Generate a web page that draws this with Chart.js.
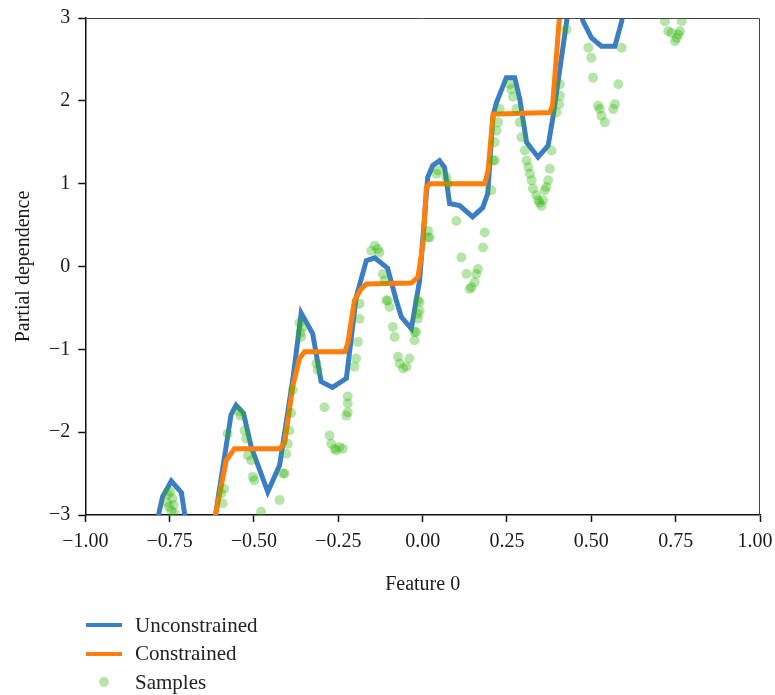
<!DOCTYPE html>
<html>
<head>
<meta charset="utf-8">
<script src="https://cdn.jsdelivr.net/npm/chart.js@4/dist/chart.umd.min.js"></script>
<style>
  html, body { margin: 0; padding: 0; background: #fff; }
  #wrap { position: relative; width: 775px; height: 695px; }
  #legend {
    position: absolute; left: 86px; top: 611px;
    font-family: 'Liberation Serif', 'DejaVu Serif', serif; font-size: 21px; color: #222;
  }
  .item { display: flex; align-items: center; height: 28.5px; }
  .swatch { width: 36px; height: 4px; margin-right: 13px; }
  .dot { width: 36px; display: flex; justify-content: center; margin-right: 13px; }
  .dot span { width: 10px; height: 10px; border-radius: 50%; }
</style>
</head>
<body>
<div id="wrap">
  <canvas id="chart" width="775" height="695"></canvas>
  <div id="legend"></div>
</div>
<script>
// unconstrained model curve
const unconstrainedX = [-0.80, -0.783, -0.771, -0.745, -0.715, -0.705, -0.69, -0.63, -0.614, -0.568, -0.553, -0.531, -0.508, -0.459, -0.424, -0.385, -0.360, -0.326, -0.301, -0.267, -0.226, -0.197, -0.167, -0.142, -0.104, -0.078, -0.063, -0.0335, -0.009, 0.0, 0.015, 0.030, 0.050, 0.065, 0.080, 0.110, 0.148, 0.178, 0.193, 0.2086, 0.219, 0.248, 0.273, 0.288, 0.308, 0.342, 0.372, 0.387, 0.401, 0.43, 0.45, 0.4757, 0.5006, 0.530, 0.570, 0.590, 0.61];
const unconstrainedY = [-3.4, -3.0, -2.78, -2.59, -2.73, -3.0, -3.5, -3.5, -3.0, -1.79, -1.675, -1.77, -2.18, -2.72, -2.40, -1.37, -0.563, -0.81, -1.39, -1.46, -1.35, -0.37, 0.07, 0.105, -0.02, -0.41, -0.61, -0.75, -0.17, 0.31, 1.076, 1.22, 1.277, 1.196, 0.76, 0.735, 0.60, 0.71, 0.88, 1.82, 1.98, 2.28, 2.28, 2.02, 1.50, 1.32, 1.46, 1.82, 2.22, 3.05, 3.3, 2.96, 2.76, 2.66, 2.66, 2.96, 3.5];

// monotonic constrained model curve
const constrainedX = [-0.63, -0.614, -0.582, -0.558, -0.424, -0.409, -0.385, -0.365, -0.350, -0.231, -0.222, -0.202, -0.182, -0.167, -0.034, -0.014, 0.001, 0.011, 0.021, 0.184, 0.194, 0.209, 0.224, 0.377, 0.385, 0.405, 0.42];
const constrainedY = [-3.5, -3.0, -2.34, -2.20, -2.20, -2.13, -1.45, -1.11, -1.03, -1.03, -0.93, -0.41, -0.27, -0.21, -0.20, -0.13, 0.27, 0.955, 1.0, 1.0, 1.16, 1.84, 1.84, 1.86, 1.94, 2.98, 3.3];

// training samples
const sampleX = [-0.755, -0.748, -0.742, -0.738, -0.752, -0.745, -0.735, -0.758,
  -0.597, -0.593, -0.588, -0.578, -0.545, -0.540, -0.528, -0.523, -0.518, -0.508, -0.503, -0.499, -0.479,
  -0.424, -0.414, -0.409, -0.404, -0.400, -0.395, -0.390, -0.385,
  -0.360, -0.355, -0.362, -0.365, -0.315, -0.311, -0.291,
  -0.276, -0.271, -0.261, -0.256, -0.246, -0.237, -0.226, -0.222, -0.222, -0.222,
  -0.202, -0.197, -0.192, -0.187, -0.187,
  -0.152, -0.142, -0.133, -0.128, -0.118, -0.113, -0.108, -0.103, -0.098,
  -0.088, -0.083, -0.073, -0.068, -0.058, -0.048, -0.039, -0.024, -0.024, -0.019, -0.014, -0.014, -0.009, -0.009, -0.014,
  0.016, 0.021, 0.016, 0.041, 0.046, 0.070, 0.075,
  0.100, 0.115, 0.130, 0.139, 0.145, 0.154, 0.159, 0.164, 0.179, 0.184, 0.204, 0.209,
  0.214, 0.214, 0.219, 0.2235, 0.2285, 0.258, 0.263, 0.268, 0.278, 0.288, 0.293,
  0.303, 0.308, 0.313, 0.318, 0.323, 0.327, 0.337, 0.342, 0.347, 0.352, 0.357, 0.362, 0.367, 0.372, 0.377, 0.382,
  0.397, 0.405, 0.407, 0.407,
  0.426, 0.491, 0.500, 0.505, 0.520, 0.525, 0.530, 0.540, 0.565, 0.570, 0.580, 0.590,
  0.718, 0.728, 0.738, 0.753, 0.748, 0.763, 0.768, 0.758];
const sampleY = [-2.75, -2.72, -2.80, -2.88, -2.90, -2.95, -2.98, -2.85,
  -2.74, -2.86, -2.68, -2.02, -1.75, -1.80, -1.98, -2.08, -2.28, -2.34, -2.54, -2.58, -2.96,
  -2.82, -2.50, -2.50, -2.26, -2.14, -1.98, -1.77, -1.49,
  -0.85, -0.73, -0.80, -0.68, -1.17, -1.25, -1.70,
  -2.04, -2.14, -2.20, -2.22, -2.18, -2.20, -1.80, -1.76, -1.65, -1.57,
  -1.21, -1.11, -0.91, -0.63, -0.45,
  0.19, 0.25, 0.21, 0.17, -0.09, -0.17, -0.41, -0.41, -0.49,
  -0.73, -0.85, -1.09, -1.17, -1.23, -1.21, -1.11, -0.79, -0.89, -0.79, -0.63, -0.57, -0.53, -0.43, -0.41,
  0.35, 0.35, 0.43, 1.12, 1.16, 1.08, 1.00,
  0.55, 0.11, -0.09, -0.27, -0.25, -0.19, -0.09, -0.03, 0.23, 0.41, 0.92, 1.28,
  1.28, 1.50, 1.64, 1.74, 1.90, 2.20, 2.14, 2.05, 1.90, 1.74, 1.56,
  1.40, 1.28, 1.20, 1.12, 1.04, 0.94, 0.86, 0.80, 0.77, 0.73, 0.80, 0.92, 0.96, 1.04, 1.18, 1.40,
  1.86, 1.96, 2.06, 2.20,
  2.86, 2.64, 2.52, 2.28, 1.94, 1.90, 1.82, 1.74, 1.90, 1.96, 2.20, 2.64,
  2.96, 2.84, 2.82, 2.76, 2.72, 2.84, 2.96, 2.80];

const xTicks = [-1.00, -0.75, -0.50, -0.25, 0.00, 0.25, 0.50, 0.75, 1.00];
const yTicks = [-3, -2, -1, 0, 1, 2, 3];

const toPoints = (xs, ys) => xs.map((x, i) => ({ x: x, y: ys[i] }));
const minus = s => s.replace('-', '\u2212');
const serif = "'Liberation Serif', 'DejaVu Serif', serif";
const sampleColor = 'rgba(45, 180, 10, 0.35)';

const frame = {
  id: 'frame',
  afterDatasetsDraw(chart) {
    const { ctx, chartArea: a } = chart;
    ctx.save();
    ctx.strokeStyle = '#444';
    ctx.lineWidth = 1;
    ctx.beginPath();
    ctx.moveTo(a.left, a.top + 0.5);
    ctx.lineTo(a.right - 0.5, a.top + 0.5);
    ctx.lineTo(a.right - 0.5, a.bottom);
    ctx.stroke();
    ctx.restore();
  }
};

const chart = new Chart(document.getElementById('chart'), {
  type: 'scatter',
  data: {
    datasets: [
      {
        label: 'Unconstrained',
        type: 'line',
        data: toPoints(unconstrainedX, unconstrainedY),
        borderColor: '#3c7ec3',
        borderWidth: 5,
        pointRadius: 0,
        tension: 0,
        clip: 0,
        order: 3
      },
      {
        label: 'Constrained',
        type: 'line',
        data: toPoints(constrainedX, constrainedY),
        borderColor: '#ff7f0e',
        borderWidth: 5,
        pointRadius: 0,
        tension: 0,
        clip: 0,
        order: 2
      },
      {
        label: 'Samples',
        data: toPoints(sampleX, sampleY),
        backgroundColor: sampleColor,
        borderWidth: 0,
        pointRadius: 5,
        clip: 0,
        order: 1
      }
    ]
  },
  options: {
    responsive: false,
    animation: false,
    layout: { padding: { left: 12, right: 15, top: 18, bottom: 98 } },
    plugins: { legend: { display: false }, tooltip: { enabled: false } },
    scales: {
      x: {
        type: 'linear',
        min: -1, max: 1,
        afterBuildTicks: s => { s.ticks = xTicks.map(v => ({ value: v })); },
        afterFit: s => { s.paddingLeft = 0; s.paddingRight = 0; },
        ticks: {
          // last label nudged left so it stays inside the canvas
          callback: v => v === 1 ? '1.00\u2002' : minus(v.toFixed(2)),
          font: { family: serif, size: 20 },
          color: '#1a1a1a',
          padding: 8,
          maxRotation: 0
        },
        grid: { drawOnChartArea: false, tickLength: 7, tickColor: '#111', tickWidth: 1.5 },
        border: { color: '#111', width: 1.5 },
        title: {
          display: true,
          text: 'Feature 0',
          font: { family: serif, size: 20 },
          color: '#1a1a1a',
          padding: { top: 11, bottom: 0 }
        }
      },
      y: {
        type: 'linear',
        min: -3, max: 3,
        afterBuildTicks: s => { s.ticks = yTicks.map(v => ({ value: v })); },
        afterFit: s => { s.paddingTop = 0; s.paddingBottom = 0; },
        ticks: {
          callback: v => minus(String(v)),
          font: { family: serif, size: 20 },
          color: '#1a1a1a',
          padding: 8
        },
        grid: { drawOnChartArea: false, tickLength: 7, tickColor: '#111', tickWidth: 1.5 },
        border: { color: '#111', width: 1.5 },
        title: {
          display: true,
          text: 'Partial dependence',
          font: { family: serif, size: 20 },
          color: '#1a1a1a',
          padding: { top: 0, bottom: 5 }
        }
      }
    }
  },
  plugins: [frame]
});

// legend below the plot, stacked like the original
const legend = document.getElementById('legend');
chart.data.datasets.forEach(ds => {
  const row = document.createElement('div');
  row.className = 'item';
  if (ds.type === 'line') {
    row.innerHTML = '<div class="swatch" style="background:' + ds.borderColor + '"></div>';
  } else {
    row.innerHTML = '<div class="dot"><span style="background:' + sampleColor + '"></span></div>';
  }
  const label = document.createElement('span');
  label.textContent = ds.label;
  row.appendChild(label);
  legend.appendChild(row);
});
</script>
</body>
</html>
